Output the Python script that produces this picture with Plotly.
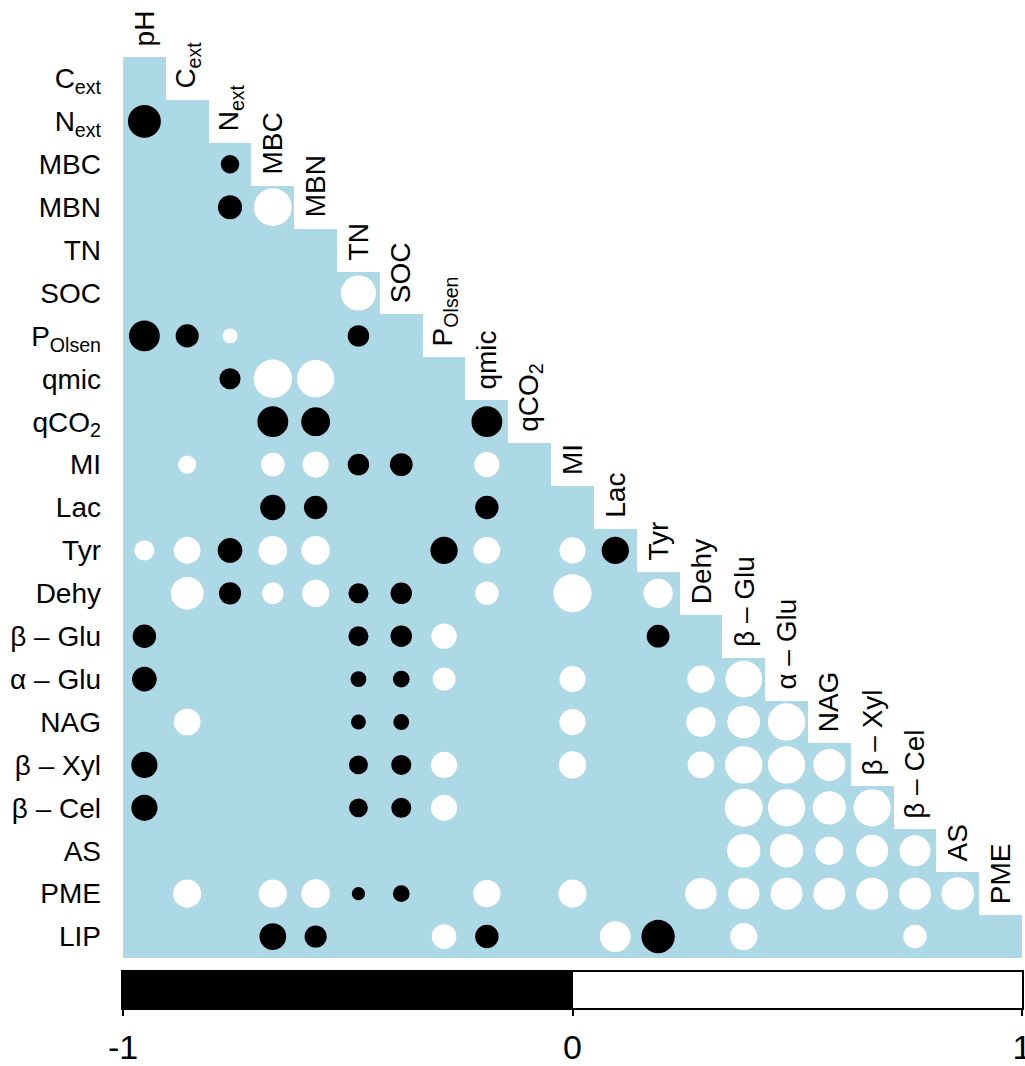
import plotly.graph_objects as go
import math

# ---------------- data ----------------
variables = ["pH", "C_ext", "N_ext", "MBC", "MBN", "TN", "SOC", "P_Olsen", "qmic", "qCO2",
             "MI", "Lac", "Tyr", "Dehy", "b-Glu", "a-Glu", "NAG", "b-Xyl", "b-Cel", "AS", "PME", "LIP"]

var_labels = {
    "pH": "pH", "C_ext": "C<sub>ext</sub>", "N_ext": "N<sub>ext</sub>", "MBC": "MBC", "MBN": "MBN",
    "TN": "TN", "SOC": "SOC", "P_Olsen": "P<sub>Olsen</sub>", "qmic": "qmic", "qCO2": "qCO<sub>2</sub>",
    "MI": "MI", "Lac": "Lac", "Tyr": "Tyr", "Dehy": "Dehy", "b-Glu": "β – Glu", "a-Glu": "α – Glu",
    "NAG": "NAG", "b-Xyl": "β – Xyl", "b-Cel": "β – Cel", "AS": "AS", "PME": "PME", "LIP": "LIP",
}

# significant correlations (row variable -> {column variable: r}); blanks are non-significant
r_C_ext = {}
r_N_ext = {"pH": -0.73}
r_MBC = {"N_ext": -0.23}
r_MBN = {"N_ext": -0.39, "MBC": 0.96}
r_TN = {}
r_SOC = {"TN": 0.83}
r_P_Olsen = {"pH": -0.64, "C_ext": -0.36, "N_ext": 0.15, "TN": -0.31}
r_qmic = {"N_ext": -0.30, "MBC": 0.99, "MBN": 0.94}
r_qCO2 = {"MBC": -0.64, "MBN": -0.56, "qmic": -0.64}
r_MI = {"C_ext": 0.22, "MBC": 0.38, "MBN": 0.46, "TN": -0.31, "SOC": -0.35, "qmic": 0.43}
r_Lac = {"MBC": -0.43, "MBN": -0.37, "qmic": -0.37}
r_Tyr = {"pH": 0.27, "C_ext": 0.48, "N_ext": -0.41, "MBC": 0.55, "MBN": 0.55, "P_Olsen": -0.50,
         "qmic": 0.48, "MI": 0.46, "Lac": -0.50}
r_Dehy = {"C_ext": 0.72, "N_ext": -0.33, "MBC": 0.31, "MBN": 0.50, "TN": -0.27, "SOC": -0.31,
          "qmic": 0.37, "MI": 0.98, "Tyr": 0.58}
r_b_Glu = {"pH": -0.37, "TN": -0.27, "SOC": -0.31, "P_Olsen": 0.43, "Tyr": -0.35}
r_a_Glu = {"pH": -0.41, "TN": -0.17, "SOC": -0.19, "P_Olsen": 0.35, "MI": 0.46, "Dehy": 0.50,
           "b-Glu": 0.91}
r_NAG = {"C_ext": 0.48, "TN": -0.15, "SOC": -0.17, "MI": 0.46, "Dehy": 0.58, "b-Glu": 0.72,
         "a-Glu": 0.94}
r_b_Xyl = {"pH": -0.46, "TN": -0.24, "SOC": -0.27, "P_Olsen": 0.46, "MI": 0.50, "Dehy": 0.48,
           "b-Glu": 0.94, "a-Glu": 0.94, "NAG": 0.69}
r_b_Cel = {"pH": -0.46, "TN": -0.24, "SOC": -0.27, "P_Olsen": 0.46, "b-Glu": 0.97, "a-Glu": 0.94,
           "NAG": 0.75, "b-Xyl": 0.94}
r_AS = {"b-Glu": 0.75, "a-Glu": 0.75, "NAG": 0.53, "b-Xyl": 0.69, "b-Cel": 0.64}
r_PME = {"C_ext": 0.53, "MBC": 0.53, "MBN": 0.55, "TN": -0.12, "SOC": -0.19, "qmic": 0.50,
         "MI": 0.53, "Dehy": 0.66, "b-Glu": 0.66, "a-Glu": 0.69, "NAG": 0.69, "b-Xyl": 0.69,
         "b-Cel": 0.69, "AS": 0.72}
r_LIP = {"MBC": -0.48, "MBN": -0.33, "P_Olsen": 0.41, "qmic": -0.37, "Lac": 0.64, "Tyr": -0.75,
         "b-Glu": 0.50, "b-Cel": 0.37}

row_corrs = [r_C_ext, r_N_ext, r_MBC, r_MBN, r_TN, r_SOC, r_P_Olsen, r_qmic, r_qCO2, r_MI, r_Lac,
             r_Tyr, r_Dehy, r_b_Glu, r_a_Glu, r_NAG, r_b_Xyl, r_b_Cel, r_AS, r_PME, r_LIP]

colorbar_ticks = [-1, 0, 1]

# ---------------- layout geometry ----------------
W, H = 1025, 1066
ML, MR, MT, MB = 123, 3, 57, 58
plot_w = W - ML - MR
plot_h = H - MT - MB
main_bottom_px = 958
bar_top_px = 972
n = len(variables) - 1
cell_px = plot_w / n

row_vars = variables[1:]
col_vars = variables[:-1]

FONT = "Liberation Sans, Arial, sans-serif"
FS = 28

fig = go.Figure()

# light blue lower-triangle background
z = [[1 if j <= i else None for j in range(n)] for i in range(n)]
fig.add_trace(go.Heatmap(
    z=z, x=list(range(n)), y=list(range(n)),
    colorscale=[[0, "#ADD8E6"], [1, "#ADD8E6"]], showscale=False,
    hoverinfo="skip", xaxis="x", yaxis="y"))

# circles
xs, ys, sizes, colors, texts = [], [], [], [], []
for i, rc in enumerate(row_corrs):
    for cname, r in rc.items():
        j = col_vars.index(cname)
        xs.append(j)
        ys.append(i)
        sizes.append(0.9 * math.sqrt(abs(r)) * cell_px)
        colors.append("black" if r < 0 else "white")
        texts.append(f"{row_vars[i]} vs {cname}: r = {r:.2f}")

fig.add_trace(go.Scatter(
    x=xs, y=ys, mode="markers",
    marker=dict(size=sizes, color=colors, opacity=1, line=dict(width=0)),
    text=texts, hoverinfo="text", xaxis="x", yaxis="y", showlegend=False))

# colour legend bar
fig.add_trace(go.Heatmap(
    z=[[-1, 1]], x=[-0.5, 0.5], y=[0.5],
    zmin=-1, zmax=1,
    colorscale=[[0, "black"], [0.5, "black"], [0.5, "white"], [1, "white"]],
    showscale=False, hoverinfo="skip", xaxis="x2", yaxis="y2"))

# column labels (rotated, staircase)
annotations = []
for j, cname in enumerate(col_vars):
    annotations.append(dict(
        text=var_labels[cname], x=j, y=j - 0.5, xref="x", yref="y",
        textangle=-90, xanchor="center", yanchor="bottom", yshift=9,
        showarrow=False, font=dict(family=FONT, size=FS, color="black")))

main_dom_bottom = (H - MB - main_bottom_px) / plot_h
bar_dom_top = (H - MB - bar_top_px) / plot_h

fig.update_layout(
    width=W, height=H,
    margin=dict(l=ML, r=MR, t=MT, b=MB, autoexpand=False),
    paper_bgcolor="white", plot_bgcolor="white",
    font=dict(family=FONT, size=FS, color="black"),
    showlegend=False,
    annotations=annotations,
    xaxis=dict(domain=[0, 1], range=[-0.5, n - 0.5], showgrid=False, zeroline=False,
               showticklabels=False, ticks="", showline=False, anchor="y", automargin=False),
    yaxis=dict(domain=[main_dom_bottom, 1], range=[n - 0.5, -0.5], showgrid=False, zeroline=False,
               tickmode="array", tickvals=list(range(n)),
               ticktext=[var_labels[v] for v in row_vars], ticks="", showline=False,
               ticklabelstandoff=21, tickfont=dict(family=FONT, size=FS, color="black"),
               anchor="x", automargin=False),
    xaxis2=dict(domain=[0, 1], range=[-1, 1], anchor="y2", showgrid=False, zeroline=False,
                showline=True, mirror=True, linecolor="black", linewidth=1.5,
                ticks="outside", ticklen=6, tickwidth=1.5, tickcolor="black",
                tickmode="array", tickvals=colorbar_ticks,
                ticktext=[str(t) for t in colorbar_ticks],
                ticklabeloverflow="allow", ticklabelstandoff=2, automargin=False,
                tickfont=dict(family=FONT, size=34, color="black")),
    yaxis2=dict(domain=[0, bar_dom_top], range=[0, 1], anchor="x2", showgrid=False,
                zeroline=False, showline=True, mirror=True, linecolor="black", linewidth=1.5,
                showticklabels=False, ticks="", automargin=False),
)

fig.write_html("out.html", config={"displayModeBar": False},
               post_script="document.body.style.margin='0';")
